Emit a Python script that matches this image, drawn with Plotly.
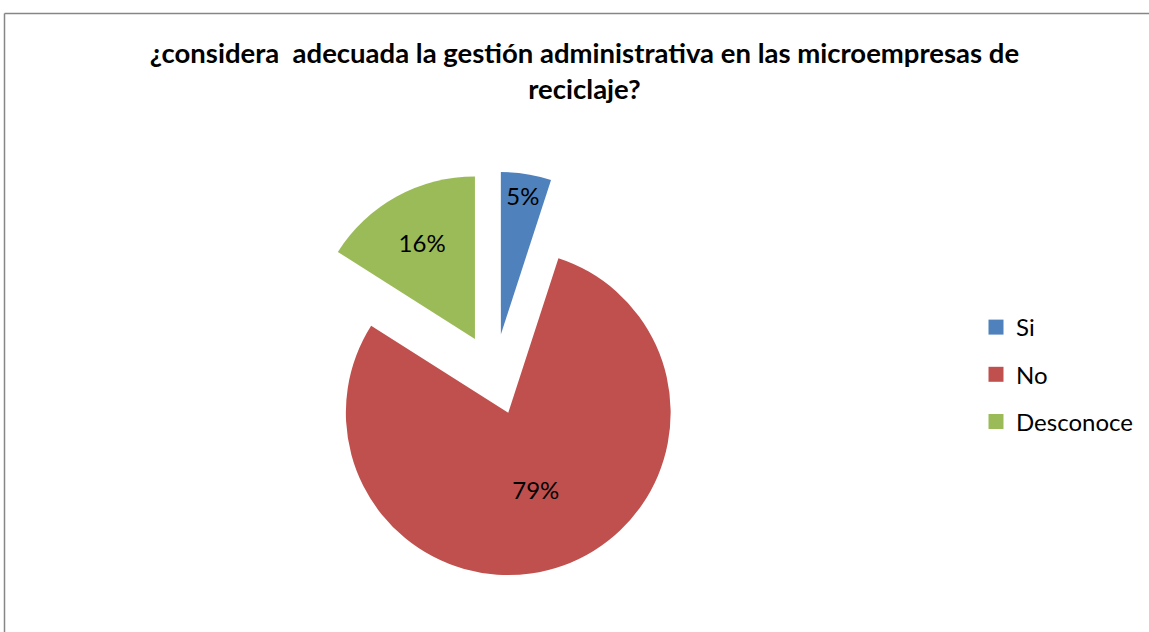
import plotly.graph_objects as go

labels = ["Si", "No", "Desconoce"]
values = [5, 79, 16]
colors = ["#4F81BD", "#C0504D", "#9BBB59"]
title_text = "¿considera  adecuada la gestión administrativa en las microempresas de<br>reciclaje?"

W, H = 1149, 632
FONT = "Lato"

fig = go.Figure()
fig.add_trace(go.Pie(
    labels=labels,
    values=values,
    marker=dict(colors=colors, line=dict(width=0)),
    sort=False,
    direction="clockwise",
    rotation=0,
    pull=[0.25, 0.25, 0.25],
    textinfo="percent",
    texttemplate="%{percent:.0%}",
    textposition="inside",
    insidetextorientation="horizontal",
    textfont=dict(family=FONT, size=24, color="black"),
    showlegend=False,
    domain=dict(x=[291.5 / W, 697.5 / W], y=[54.5 / H, 460.5 / H]),
    hoverinfo="label+percent",
))

# legend entries (one group each so that spacing can be controlled)
for lab, col in zip(labels, colors):
    fig.add_trace(go.Scatter(
        x=[None], y=[None], mode="markers", name=lab, legendgroup=lab,
        marker=dict(symbol="square", size=15, color=col),
        showlegend=True,
    ))

border = dict(color="#868686", width=1.5)
fig.update_layout(
    width=W, height=H,
    margin=dict(l=0, r=0, t=0, b=0),
    paper_bgcolor="white",
    plot_bgcolor="white",
    title=dict(
        text="<b>" + title_text + "</b>",
        x=584.5 / W, xanchor="center",
        y=1 - 63 / H, yanchor="middle",
        font=dict(family=FONT, size=27.5, color="black"),
    ),
    xaxis=dict(visible=False),
    yaxis=dict(visible=False),
    legend=dict(
        x=976 / W, xanchor="left",
        y=1 - 305 / H, yanchor="top",
        font=dict(family=FONT, size=24, color="black"),
        tracegroupgap=13,
        bgcolor="rgba(0,0,0,0)",
    ),
    shapes=[
        dict(type="line", xref="paper", yref="paper",
             x0=4.5 / W, x1=1, y0=1 - 13.5 / H, y1=1 - 13.5 / H,
             line=border, layer="below"),
        dict(type="line", xref="paper", yref="paper",
             x0=4.5 / W, x1=4.5 / W, y0=0, y1=1 - 13.5 / H,
             line=border, layer="below"),
    ],
)

fig.write_html(
    "out.html",
    config={"displayModeBar": False},
    post_script=(
        "document.documentElement.style.margin='0';"
        "document.documentElement.style.padding='0';"
        "document.documentElement.style.overflow='hidden';"
        "document.body.style.margin='0';"
        "document.body.style.padding='0';"
        "document.body.style.overflow='hidden';"
    ),
)
